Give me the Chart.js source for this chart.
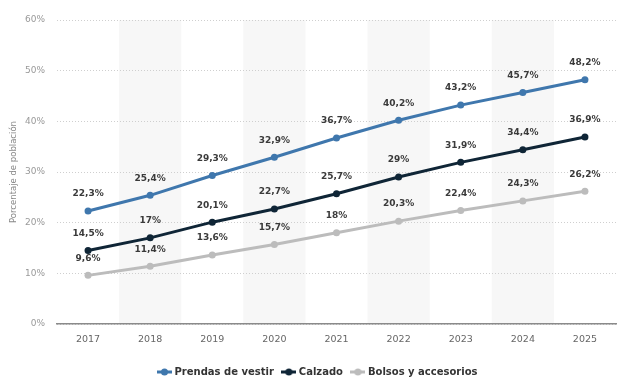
<!DOCTYPE html>
<html>
<head>
<meta charset="utf-8">
<script src="https://cdn.jsdelivr.net/npm/chart.js@4"></script>
<style>
  html, body { margin: 0; padding: 0; background: #fff; }
  #wrap { width: 620px; height: 378px; position: relative; }
</style>
</head>
<body>
<div id="wrap"><canvas id="chart"></canvas></div>
<script>
const years = ["2017", "2018", "2019", "2020", "2021", "2022", "2023", "2024", "2025"];
const prendas = [22.3, 25.4, 29.3, 32.9, 36.7, 40.2, 43.2, 45.7, 48.2];
const calzado = [14.5, 17, 20.1, 22.7, 25.7, 29, 31.9, 34.4, 36.9];
const bolsos = [9.6, 11.4, 13.6, 15.7, 18, 20.3, 22.4, 24.3, 26.2];
const yTicks = [0, 10, 20, 30, 40, 50, 60];

const FONT = "'DejaVu Sans', sans-serif";
const fmt = (v) => String(v).replace(".", ",") + "%";

// legend marker: short line with a dot in the middle
function lineDot(color) {
  const c = document.createElement("canvas");
  c.width = 15;
  c.height = 8;
  const g = c.getContext("2d");
  g.strokeStyle = color;
  g.lineWidth = 3;
  g.beginPath();
  g.moveTo(0, 4);
  g.lineTo(15, 4);
  g.stroke();
  g.fillStyle = color;
  g.beginPath();
  g.arc(7.5, 4, 3.5, 0, Math.PI * 2);
  g.fill();
  return c;
}

const bands = {
  id: "bands",
  beforeDraw(chart) {
    const { ctx, chartArea, scales } = chart;
    const step = scales.x.getPixelForValue(1) - scales.x.getPixelForValue(0);
    ctx.save();
    ctx.fillStyle = "#f7f7f7";
    years.forEach((y, i) => {
      if (i % 2 === 1) {
        const cx = scales.x.getPixelForValue(i);
        ctx.fillRect(cx - step / 2, chartArea.top, step, chartArea.bottom - chartArea.top);
      }
    });
    ctx.restore();
  },
};

const valueLabels = {
  id: "valueLabels",
  afterDatasetsDraw(chart) {
    const { ctx } = chart;
    ctx.save();
    ctx.font = "bold 9px " + FONT;
    ctx.fillStyle = "#3a3a3a";
    ctx.textAlign = "center";
    ctx.textBaseline = "middle";
    chart.data.datasets.forEach((ds, di) => {
      chart.getDatasetMeta(di).data.forEach((pt, i) => {
        ctx.fillText(fmt(ds.data[i]), pt.x, pt.y - 17);
      });
    });
    ctx.restore();
  },
};

const series = [
  { label: "Prendas de vestir", data: prendas, color: "#3f77ad" },
  { label: "Calzado", data: calzado, color: "#0f2536" },
  { label: "Bolsos y accesorios", data: bolsos, color: "#bcbcbc" },
];

new Chart(document.getElementById("chart"), {
  type: "line",
  data: {
    labels: years,
    datasets: series.map((s) => ({
      label: s.label,
      data: s.data,
      borderColor: s.color,
      backgroundColor: s.color,
      pointBackgroundColor: s.color,
      pointBorderWidth: 0,
      borderWidth: 3,
      pointRadius: 3.5,
      tension: 0,
      fill: false,
    })),
  },
  options: {
    responsive: true,
    maintainAspectRatio: false,
    animation: false,
    layout: { padding: { top: 20, right: -8, left: 9, bottom: -9 } },
    plugins: {
      tooltip: { enabled: false },
      legend: {
        position: "bottom",
        labels: {
          font: { family: FONT, size: 10, weight: "bold" },
          color: "#333",
          usePointStyle: true,
          padding: 10,
          generateLabels(chart) {
            return series.map((s, i) => ({
              text: s.label,
              pointStyle: lineDot(s.color),
              fillStyle: s.color,
              strokeStyle: s.color,
              lineWidth: 0,
              datasetIndex: i,
              fontColor: "#333",
            }));
          },
        },
      },
    },
    scales: {
      x: {
        offset: true,
        grid: { display: false, drawTicks: false },
        border: { display: true, color: "#8a8a8a", width: 1.5 },
        ticks: { color: "#666", font: { family: FONT, size: 9.5 }, padding: 10 },
        afterFit(s) { s.height = 33; },
      },
      y: {
        min: 0,
        max: 60,
        afterBuildTicks(s) { s.ticks = yTicks.map((v) => ({ value: v })); },
        grid: { color: "#cfcfcf", drawTicks: false, lineWidth: 1 },
        border: { display: false, dash: [1, 2] },
        ticks: { color: "#999", font: { family: FONT, size: 9 }, padding: 12, callback: (v) => v + "%" },
        title: { display: true, text: "Porcentaje de población", color: "#888", font: { family: FONT, size: 8.5 }, padding: 0 },
        afterFit(s) { s.width = 48; },
      },
    },
  },
  plugins: [bands, valueLabels],
});
</script>
</body>
</html>
